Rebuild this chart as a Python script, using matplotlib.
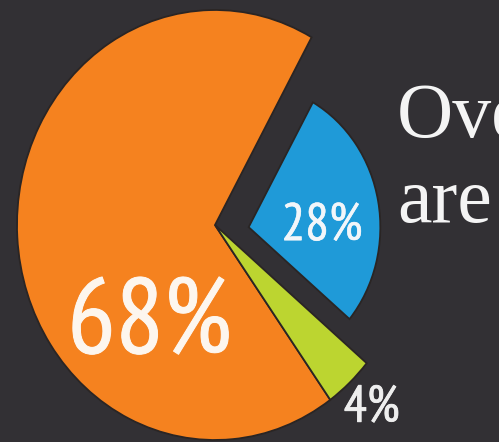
import matplotlib.pyplot as plt
import matplotlib.patheffects as pe
import numpy as np

# данные
labels = ["28%", "68%", "4%"]
shares = [28, 68, 4]
colors = ["#1f9ad8", "#f5821f", "#bcd530"]
caption = ["Ove", "are"]

bg = "#323034"

fig = plt.figure(figsize=(4.99, 4.42), dpi=100)
fig.patch.set_facecolor(bg)
ax = fig.add_axes([0, 0, 1, 1])
ax.set_facecolor(bg)

wedges, _ = ax.pie(shares, colors=colors, startangle=-40, counterclock=True,
                   radius=1.0,
                   wedgeprops=dict(edgecolor="#2a2524", linewidth=1.3))

# синий сектор меньше и сдвинут вправо
wedges[0].set_radius(0.665)
wedges[0].set_center((0.17, -0.01))

# растянуто по вертикали, как на картинке
ax.set_aspect("auto")
ax.set_xlim(-215 / 198, (499 - 215) / 198)
ax.set_ylim(-(442 - 225) / 215, 225 / 215)
ax.axis("off")

sans = ["PT Sans Narrow", "Liberation Sans Narrow", "DejaVu Sans"]
serif = ["Liberation Serif", "DejaVu Serif"]


def thick(c, w):
    # чуть жирнее обводкой того же цвета
    return [pe.withStroke(linewidth=w, foreground=c)]


# подписи процентов
cx, cy = wedges[0].center
ax.text(cx + 0.37, cy, labels[0], color="#f2f6fa", fontsize=38, family=sans,
        ha="center", va="center", path_effects=thick("#f2f6fa", 0.4))
ax.text(-0.33, -0.47, labels[1], color="#fdf6ee", fontsize=77, family=sans,
        ha="center", va="center", path_effects=thick("#fdf6ee", 0.7))
mid = np.deg2rad((wedges[2].theta1 + wedges[2].theta2) / 2)
ax.text(1.165 * np.cos(mid), 1.165 * np.sin(mid), labels[2], color="#eeeeee",
        fontsize=37, family=sans, ha="center", va="center",
        path_effects=thick("#eeeeee", 0.6))

# текст справа (обрезан краем, как в оригинале)
fig.text(397 / 499, 1 - 137 / 442, caption[0], color="#f4f4f4", fontsize=56,
         family=serif, ha="left", va="baseline")
fig.text(397 / 499, 1 - 222 / 442, caption[1], color="#f4f4f4", fontsize=56,
         family=serif, ha="left", va="baseline")

fig.savefig("out.png", dpi=100, facecolor=bg)
